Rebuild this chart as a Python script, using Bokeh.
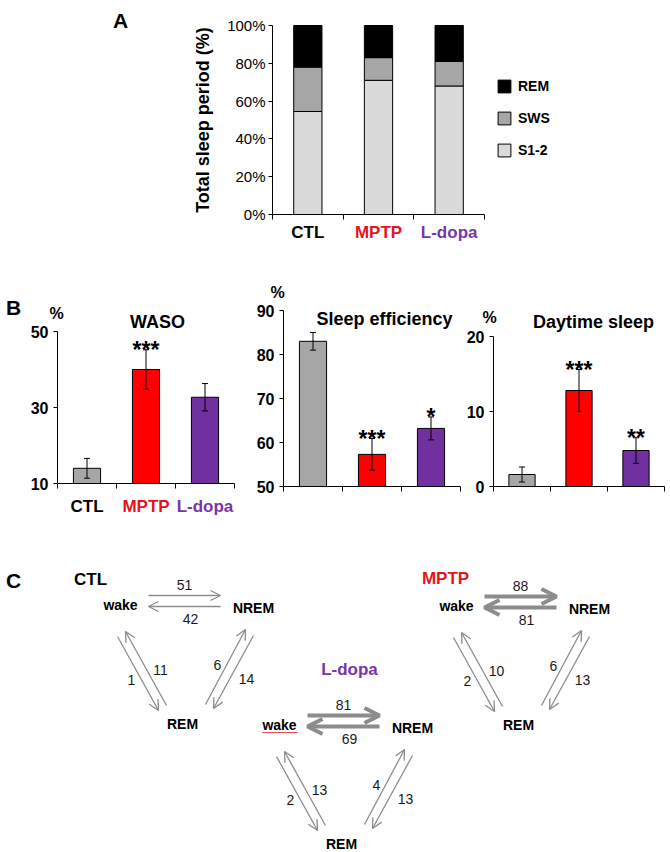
from bokeh.plotting import figure
from bokeh.models import (ColumnDataSource, Range1d, FixedTicker, PrintfTickFormatter, LinearAxis,
                          Legend, LegendItem, Whisker, TeeHead, Arrow, OpenHead)
from bokeh.embed import file_html
from bokeh.resources import INLINE
from bokeh.core.properties import value

FONT = "Liberation Sans"

# ---------------- data ----------------
groups = ["CTL", "MPTP", "L-dopa"]
group_text_colors = ["#000000", "#e8141c", "#7a35a8"]
bar_colors = ["#a6a6a6", "#ff0000", "#7030a0"]

# Panel A: composition of total sleep period (%)
stages = ["S1-2", "SWS", "REM"]
stage_colors = ["#dadada", "#a6a6a6", "#000000"]
s12 = [54.5, 71.0, 68.0]
sws = [23.5, 12.0, 13.0]
rem = [22.0, 17.0, 19.0]
a_ticks = [0, 20, 40, 60, 80, 100]

# Panel B
waso_mean = [14.0, 40.0, 32.7]
waso_err = [2.6, 5.2, 3.6]
waso_stars = ["", "***", ""]
waso_ticks = [10, 30, 50]

se_mean = [83.0, 57.3, 63.2]
se_err = [2.0, 3.6, 2.6]
se_stars = ["", "***", "*"]
se_ticks = [50, 60, 70, 80, 90]

ds_mean = [1.6, 12.8, 4.8]
ds_err = [1.0, 2.8, 1.7]
ds_stars = ["", "***", "**"]
ds_ticks = [0, 10, 20]

# Panel C: transition counts
wake_to_nrem = [51, 88, 81]
nrem_to_wake = [42, 81, 69]
wake_to_rem = [1, 2, 2]
rem_to_wake = [11, 10, 13]
rem_to_nrem = [6, 6, 4]
nrem_to_rem = [14, 13, 13]

xs = list(range(1, len(groups) + 1))
bounds_x = [x - 0.5 for x in xs] + [xs[-1] + 0.5]

# ---------------- one page-sized canvas ----------------
PX0, PX1, PY0, PY1 = 0, 666, 0, 850
P = figure(width=PX1 - PX0, height=PY1 - PY0, x_range=Range1d(PX0, PX1), y_range=Range1d(PY1, PY0),
           min_border=0, x_axis_location=None, y_axis_location=None,
           output_backend="svg", toolbar_location=None)
P.outline_line_color = None
P.grid.visible = False


def add_panel(name, xdata, xpage, ydata, ypage):
    (x0, x1), (px0, px1) = xdata, xpage
    sx = (x1 - x0) / (px1 - px0)
    P.extra_x_ranges[name] = Range1d(x0 + (PX0 - px0) * sx, x0 + (PX1 - px0) * sx)
    (y0, y1), (pyb, pyt) = ydata, ypage
    sy = (y1 - y0) / (pyb - pyt)
    P.extra_y_ranges[name] = Range1d(y0 - (PY1 - pyb) * sy, y0 + (pyb - PY0) * sy)


def tick_style(ax):
    ax.axis_line_color = "black"
    ax.major_tick_line_color = "black"
    ax.minor_tick_line_color = "black"
    ax.major_label_text_font = FONT
    ax.major_label_text_color = "black"


def x_axes(name, ybase, labels=False, standoff=8):
    ax = LinearAxis(x_range_name=name, y_range_name=name, fixed_location=ybase,
                    bounds=(bounds_x[0], bounds_x[-1]),
                    ticker=FixedTicker(ticks=[], minor_ticks=bounds_x),
                    minor_tick_out=5, minor_tick_in=0, major_tick_out=0, major_tick_in=0)
    tick_style(ax)
    P.add_layout(ax, "below")
    if labels:
        for x, g, c in zip(xs, groups, group_text_colors):
            la = LinearAxis(x_range_name=name, y_range_name=name, fixed_location=ybase,
                            ticker=FixedTicker(ticks=[x]), major_label_overrides={x: g},
                            axis_line_color=None, major_tick_line_color=None, minor_tick_line_color=None,
                            major_tick_out=0, major_tick_in=0, major_label_standoff=standoff,
                            major_label_text_font=FONT, major_label_text_font_size="17px",
                            major_label_text_font_style="bold", major_label_text_color=c)
            P.add_layout(la, "below")


def y_axis(name, ticks, size, bold, standoff=5):
    ay = LinearAxis(x_range_name=name, y_range_name=name, fixed_location=bounds_x[0],
                    bounds=(ticks[0], ticks[-1]), ticker=FixedTicker(ticks=ticks),
                    major_tick_out=4, major_tick_in=0, major_label_standoff=standoff,
                    major_label_text_font_size=f"{size}px",
                    major_label_text_font_style="bold" if bold else "normal")
    tick_style(ay)
    P.add_layout(ay, "left")
    return ay


def page_text(xv, yv, tv, size, bold=True, color="black"):
    P.text(x=xv, y=yv, text=tv, text_align="center", text_baseline="middle", text_font=value(FONT),
           text_font_size=f"{size}px", text_font_style="bold" if bold else "normal", text_color=color)


# ---------------- Panel A ----------------
add_panel("A", (bounds_x[0], bounds_x[-1]), (272, 484), (a_ticks[0], a_ticks[-1]), (214, 25))
srcA = ColumnDataSource(dict(x=xs, **{"S1-2": s12, "SWS": sws, "REM": rem}))
rs = P.vbar_stack(stages, x="x", width=0.4, color=stage_colors, line_color="black", line_width=1,
                  source=srcA, x_range_name="A", y_range_name="A")
ayA = y_axis("A", a_ticks, 15, False, standoff=3)
ayA.formatter = PrintfTickFormatter(format="%d%%")
ayA.axis_label = "Total sleep period (%)"
ayA.axis_label_text_font = FONT
ayA.axis_label_text_font_size = "18px"
ayA.axis_label_text_font_style = "bold"
ayA.axis_label_text_color = "black"
ayA.axis_label_standoff = 11
x_axes("A", a_ticks[0], labels=True, standoff=8)
legend = Legend(items=[LegendItem(label=stages[i], renderers=[rs[i]]) for i in (2, 1, 0)],
                location=(496, 692), padding=0, spacing=16, margin=0,
                glyph_width=16, glyph_height=16, label_standoff=6, label_height=16,
                label_text_font=FONT, label_text_font_size="14px", label_text_font_style="bold",
                label_text_color="black", border_line_color=None, background_fill_alpha=0)
P.add_layout(legend)
page_text([120], [20], ["A"], 21)


# ---------------- Panel B ----------------
def bar_panel(name, xpage, ypage, ticks, mean, err, stars):
    add_panel(name, (bounds_x[0], bounds_x[-1]), xpage, (ticks[0], ticks[-1]), ypage)
    src = ColumnDataSource(dict(x=xs, top=mean, upper=[m + e for m, e in zip(mean, err)],
                                lower=[m - e for m, e in zip(mean, err)], color=bar_colors, stars=stars))
    P.vbar(x="x", top="top", bottom=ticks[0], width=0.46, fill_color="color", line_color="black",
           line_width=1, source=src, x_range_name=name, y_range_name=name)
    P.add_layout(Whisker(base="x", upper="upper", lower="lower", source=src, line_color="black",
                         line_width=1, x_range_name=name, y_range_name=name, level="overlay",
                         upper_head=TeeHead(size=6, line_color="black", line_width=1),
                         lower_head=TeeHead(size=6, line_color="black", line_width=1)))
    P.text(x="x", y="upper", text="stars", source=src, text_align="center", text_baseline="alphabetic",
           text_font=value(FONT), text_font_size="23px", text_font_style="bold", text_color="black",
           x_range_name=name, y_range_name=name)
    y_axis(name, ticks, 16, True)


bar_panel("B1", (57, 234), (483, 331), waso_ticks, waso_mean, waso_err, waso_stars)
x_axes("B1", waso_ticks[0], labels=True, standoff=13)
bar_panel("B2", (283, 460), (486, 310), se_ticks, se_mean, se_err, se_stars)
x_axes("B2", se_ticks[0])
bar_panel("B3", (493, 664), (486, 336), ds_ticks, ds_mean, ds_err, ds_stars)
x_axes("B3", ds_ticks[0])

page_text([157, 384, 593], [321, 318, 321], ["WASO", "Sleep efficiency", "Daytime sleep"], 18)
page_text([56, 277, 489], [313, 292, 317], ["%", "%", "%"], 16)
page_text([13], [307], ["B"], 21)

# ---------------- Panel C ----------------
origins = [(120, 604), (456, 605), (279, 724)]
group_label_offsets = [(-30, -25), (-11, -27), (70, -55)]
node_names = ["wake", "NREM", "REM"]
node_offsets = [(0, 0), (133, 3), (62, 119)]
transitions = [
    (wake_to_nrem, (28, -9), (100, -9), (64, -20)),
    (nrem_to_wake, (100, 2), (28, 2), (70, 14)),
    (wake_to_rem, (-3, 32), (38, 106), (11, 75)),
    (rem_to_wake, (46, 101), (5, 27), (40, 65)),
    (rem_to_nrem, (85, 100), (125, 25), (97, 60)),
    (nrem_to_rem, (133, 31), (93, 104), (126, 74)),
]

thin = dict(x0=[], y0=[], x1=[], y1=[])
thick = dict(x0=[], y0=[], x1=[], y1=[])
num = dict(x=[], y=[], t=[])
nodes = dict(x=[], y=[], t=[])
glab = dict(x=[], y=[], t=[], c=[])
for gi, (ox, oy) in enumerate(origins):
    for counts, s, e, lp in transitions:
        n = counts[gi]
        d = thick if n >= 60 else thin
        d["x0"].append(ox + s[0]); d["y0"].append(oy + s[1])
        d["x1"].append(ox + e[0]); d["y1"].append(oy + e[1])
        num["x"].append(ox + lp[0]); num["y"].append(oy + lp[1]); num["t"].append(str(n))
    for nm, (dx, dy) in zip(node_names, node_offsets):
        nodes["x"].append(ox + dx); nodes["y"].append(oy + dy); nodes["t"].append(nm)
    glab["x"].append(ox + group_label_offsets[gi][0]); glab["y"].append(oy + group_label_offsets[gi][1])
    glab["t"].append(groups[gi]); glab["c"].append(group_text_colors[gi])

ARROW_C = "#8c8c8c"
P.add_layout(Arrow(x_start="x0", y_start="y0", x_end="x1", y_end="y1", source=ColumnDataSource(thin),
                   line_color=ARROW_C, line_width=1.3,
                   end=OpenHead(size=10, line_color=ARROW_C, line_width=1.3)))
P.add_layout(Arrow(x_start="x0", y_start="y0", x_end="x1", y_end="y1", source=ColumnDataSource(thick),
                   line_color=ARROW_C, line_width=4,
                   end=OpenHead(size=15, line_color=ARROW_C, line_width=4)))
P.text(x="x", y="y", text="t", source=ColumnDataSource(num), text_align="center", text_baseline="middle",
       text_font=value(FONT), text_font_size="14px", text_color="#1a1a1a")
P.text(x="x", y="y", text="t", source=ColumnDataSource(nodes), text_align="center", text_baseline="middle",
       text_font=value(FONT), text_font_size="14px", text_font_style="bold", text_color="black")
P.text(x="x", y="y", text="t", text_color="c", source=ColumnDataSource(glab), text_align="center",
       text_baseline="middle", text_font=value(FONT), text_font_size="17px", text_font_style="bold")
# spell-check underline visible under the L-dopa "wake" label in the original
lx, ly = origins[2]
P.segment(x0=[lx - 17], y0=[ly + 8], x1=[lx + 18], y1=[ly + 8], line_color="#e05050", line_width=1)
page_text([13], [580], ["C"], 21)

open("out.html", "w").write(file_html(P, INLINE))
